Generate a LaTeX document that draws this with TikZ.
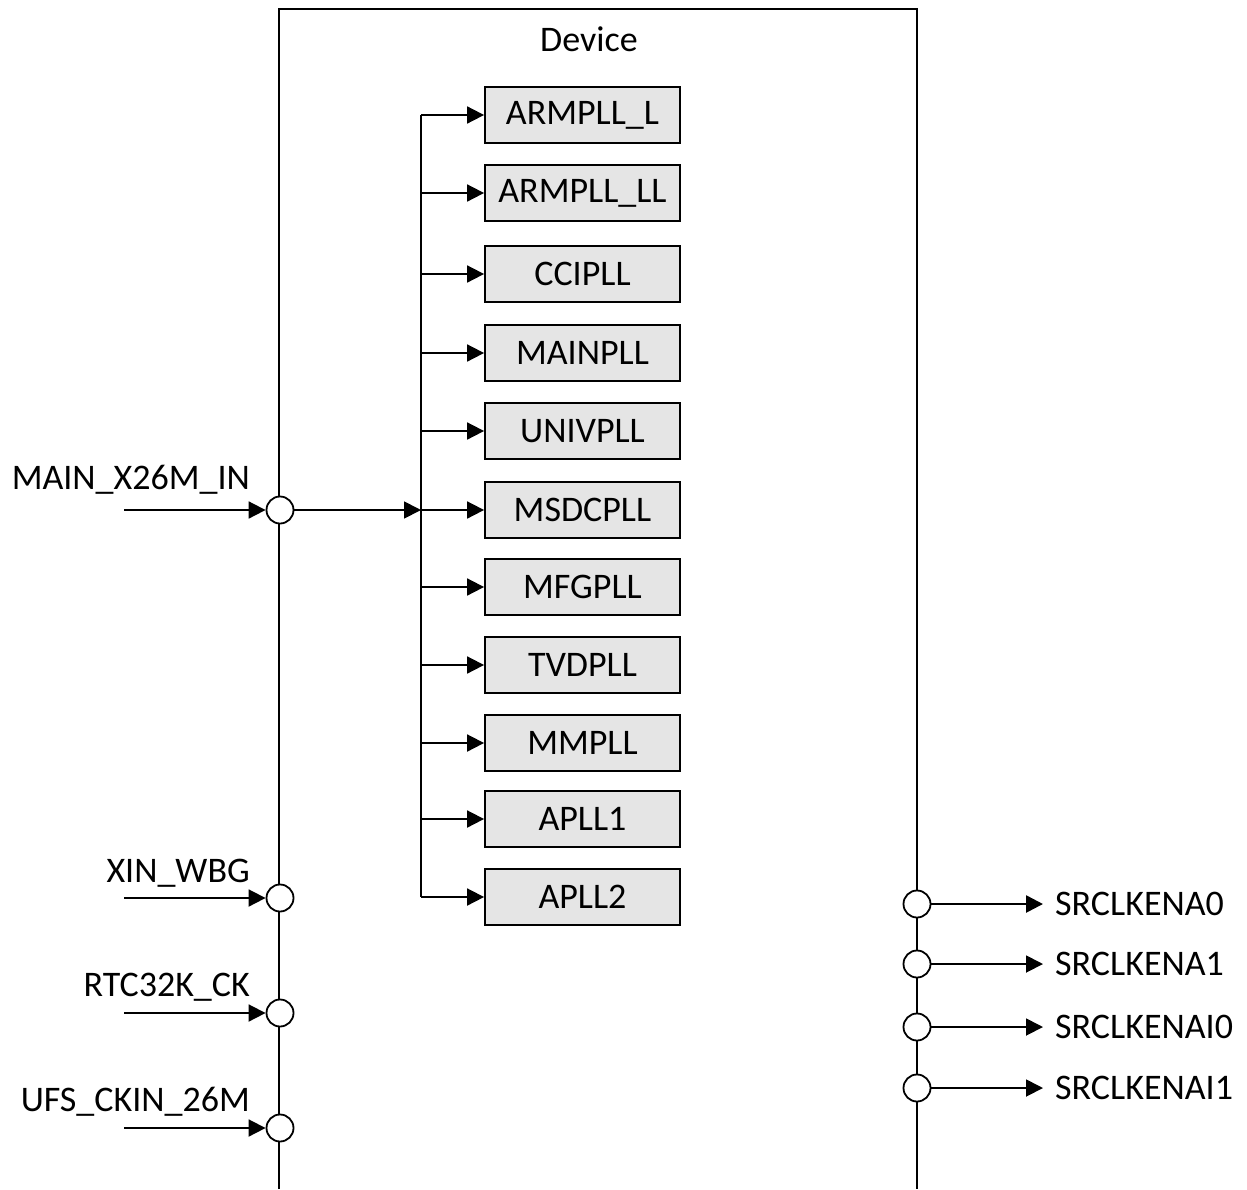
\documentclass[tikz,border=0pt]{standalone}
\usepackage{fontspec}
\setmainfont{Carlito}
\usetikzlibrary{arrows.meta}
\begin{document}
\begin{tikzpicture}[x=1pt,y=-1pt,
  lbl/.style={font=\fontsize{36}{42}\selectfont, inner sep=0pt},
  pll/.style={draw, line width=1.8pt, fill=gray!20, minimum width=195pt, minimum height=56pt, font=\fontsize{36}{42}\selectfont, inner sep=0pt},
  port/.style={circle, draw, line width=1.8pt, fill=white, minimum size=27pt, inner sep=0pt},
  wire/.style={line width=1.8pt},
  arr/.style={line width=1.8pt, -{Triangle[length=17pt,width=17pt]}}]
\useasboundingbox (0,0) rectangle (1247,1189);
% device outline
\draw[line width=1.8pt] (279,1189) -- (279,9) -- (917,9) -- (917,1189);
\node[lbl] (dev) at (589,39) {Device};
% PLL boxes
\foreach \n/\t/\y in {a/ARMPLL\_L/115, b/ARMPLL\_LL/193, c/CCIPLL/274, d/MAINPLL/353, e/UNIVPLL/431, f/MSDCPLL/510, g/MFGPLL/587, h/TVDPLL/665, i/MMPLL/743, j/APLL1/819, k/APLL2/897}{
  \node[pll] (\n) at (582.5,\y) {\t};
  \coordinate (bus\n) at (421,\y);
  \draw[arr] (bus\n) -- (\n.west);
}
\draw[wire] (busa) -- (busk);
% inputs
\node[port] (p1) at (280,510) {};
\node[port] (p2) at (280,898) {};
\node[port] (p3) at (280,1013) {};
\node[port] (p4) at (280,1128) {};
\coordinate (s1) at (124,510);
\coordinate (s2) at (124,898);
\coordinate (s3) at (124,1013);
\coordinate (s4) at (124,1128);
\foreach \i in {1,2,3,4}{\draw[arr] (s\i) -- (p\i.west);}
\draw[arr] (p1.east) -- (busf);
\node[lbl, anchor=base east] (l1) at (250,489) {MAIN\_X26M\_IN};
\node[lbl, anchor=base east] (l2) at (250,882) {XIN\_WBG};
\node[lbl, anchor=base east] (l3) at (250,996) {RTC32K\_CK};
\node[lbl, anchor=base east] (l4) at (250,1111) {UFS\_CKIN\_26M};
% outputs
\node[port] (q1) at (917,904) {};
\node[port] (q2) at (917,964) {};
\node[port] (q3) at (917,1027) {};
\node[port] (q4) at (917,1088) {};
\coordinate (t1) at (1043,904);
\coordinate (t2) at (1043,964);
\coordinate (t3) at (1043,1027);
\coordinate (t4) at (1043,1088);
\draw[arr, line width=2.6pt] (q1.east) -- (t1);
\foreach \i in {2,3,4}{\draw[arr] (q\i.east) -- (t\i);}
\node[lbl, anchor=west] (r1) at (1055,904) {SRCLKENA0};
\node[lbl, anchor=west] (r2) at (1055,964) {SRCLKENA1};
\node[lbl, anchor=west] (r3) at (1055,1027) {SRCLKENAI0};
\node[lbl, anchor=west] (r4) at (1055,1088) {SRCLKENAI1};
\end{tikzpicture}
\end{document}
